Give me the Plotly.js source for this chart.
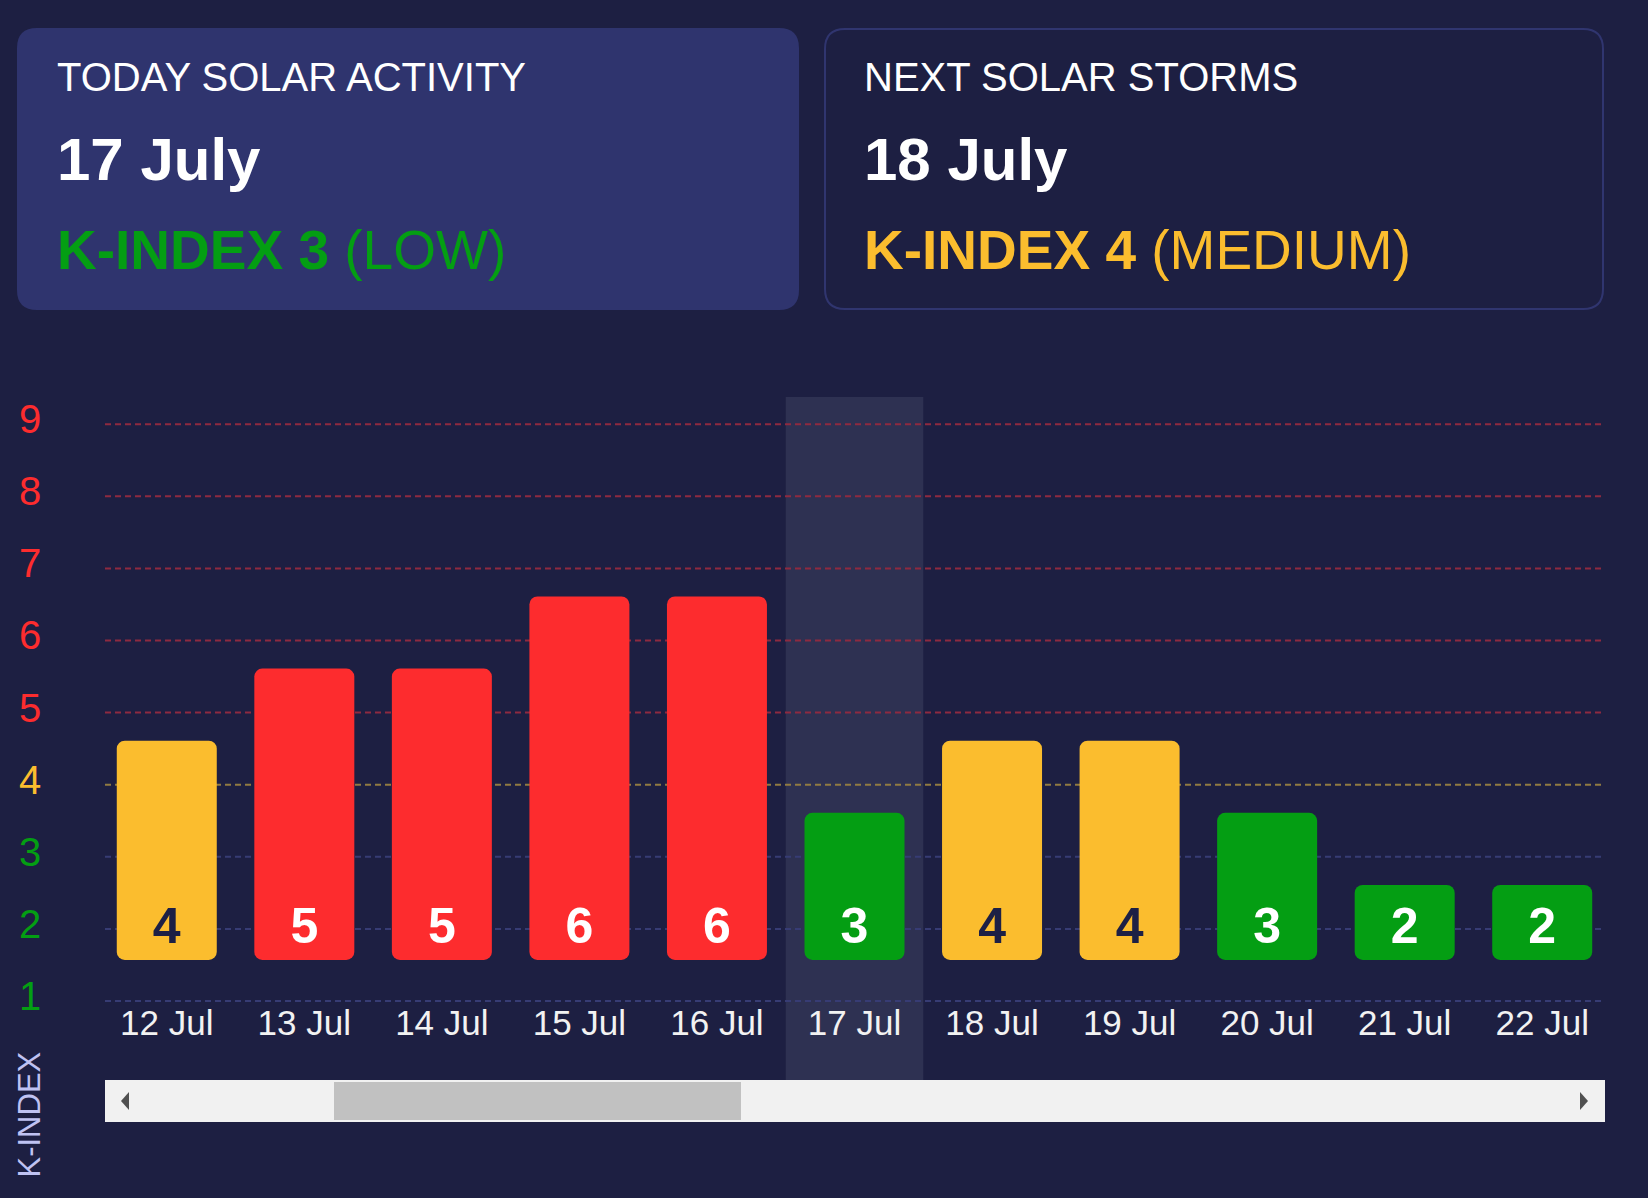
<!DOCTYPE html>
<html><head><meta charset="utf-8">
<script src="https://cdn.plot.ly/plotly-3.0.1.min.js"></script>
<style>html,body{margin:0;padding:0;background:#1d1f42;overflow:hidden}#chart{width:1648px;height:1198px}</style>
</head><body><div id="chart"></div>
<script>
// ---- data ----
const categories = ['12 Jul','13 Jul','14 Jul','15 Jul','16 Jul','17 Jul','18 Jul','19 Jul','20 Jul','21 Jul','22 Jul'];
const kIndex = [4,5,5,6,6,3,4,4,3,2,2];
const levels = [1,2,3,4,5,6,7,8,9];
const todayCategory = '17 Jul';
const todayHeading = 'TODAY SOLAR ACTIVITY';
const todayDate = '17 July';
const todayK = 3;
const todayLevel = 'LOW';
const nextHeading = 'NEXT SOLAR STORMS';
const nextDate = '18 July';
const nextK = 4;
const nextLevel = 'MEDIUM';
const yAxisTitle = 'K-INDEX';

// ---- styles ----
const GREEN = '#049e13', YELLOW = '#fbbd2e', RED = '#fd2c2e';
const BG = '#1d1f42';
function levelColor(k){ return k <= 3 ? GREEN : (k === 4 ? YELLOW : RED); }
function gridColor(k){ return k <= 3 ? '#373c74' : (k === 4 ? '#917b42' : '#8e2a40'); }
const FONT = 'Arial, "Liberation Sans", sans-serif';

const W = 1648, H = 1198, L = 98, R = 1611, T = 397, B = 1080;
const px2x = p => (p - L) / (R - L);
const px2y = p => (B - p) / (B - T);
function roundRect(x0, y0, x1, y1, r){
  const X = px2x, Y = px2y;
  return 'M' + X(x0 + r) + ',' + Y(y0) +
    ' L' + X(x1 - r) + ',' + Y(y0) +
    ' Q' + X(x1) + ',' + Y(y0) + ' ' + X(x1) + ',' + Y(y0 + r) +
    ' L' + X(x1) + ',' + Y(y1 - r) +
    ' Q' + X(x1) + ',' + Y(y1) + ' ' + X(x1 - r) + ',' + Y(y1) +
    ' L' + X(x0 + r) + ',' + Y(y1) +
    ' Q' + X(x0) + ',' + Y(y1) + ' ' + X(x0) + ',' + Y(y1 - r) +
    ' L' + X(x0) + ',' + Y(y0 + r) +
    ' Q' + X(x0) + ',' + Y(y0) + ' ' + X(x0 + r) + ',' + Y(y0) + ' Z';
}
function poly(pts){
  return pts.map((p, i) => (i ? 'L' : 'M') + px2x(p[0]) + ',' + px2y(p[1])).join(' ') + ' Z';
}

const BAR_BASE = 1.57, BAR_TOP_OFFSET = 0.61;

const bars = {
  type: 'bar', x: categories,
  y: kIndex.map(v => v + BAR_TOP_OFFSET - BAR_BASE),
  base: kIndex.map(() => BAR_BASE),
  width: 0.727,
  marker: {color: kIndex.map(levelColor), cornerradius: 8, line: {width: 0}},
  hoverinfo: 'skip', showlegend: false
};
const valueLabels = {
  type: 'scatter', mode: 'text', x: categories,
  y: kIndex.map(() => BAR_BASE + 0.41),
  text: kIndex.map(String),
  textposition: 'middle center',
  textfont: {family: FONT, size: 50, weight: 'bold', color: kIndex.map(v => v === 4 ? '#1d2045' : '#ffffff')},
  hoverinfo: 'skip', showlegend: false, cliponaxis: false
};
const catLabels = {
  type: 'scatter', mode: 'text', x: categories,
  y: categories.map(() => 0.65),
  text: categories,
  textposition: 'middle center',
  textfont: {family: FONT, size: 35, color: '#f2f2f2'},
  hoverinfo: 'skip', showlegend: false, cliponaxis: false
};

const todayIdx = categories.indexOf(todayCategory);
const shapes = [
  {type: 'path', xref: 'paper', yref: 'paper', path: roundRect(17, 28, 799, 310, 20), fillcolor: '#2f346e', line: {width: 0}, layer: 'below'},
  {type: 'path', xref: 'paper', yref: 'paper', path: roundRect(825, 29, 1603, 309, 20), fillcolor: BG, line: {color: '#30356f', width: 2}, layer: 'below'},
  {type: 'rect', xref: 'x', yref: 'paper', x0: todayIdx - 0.5, x1: todayIdx + 0.5, y0: 0, y1: 1, fillcolor: '#2e3152', line: {width: 0}, layer: 'below'}
];
levels.forEach(k => shapes.push({
  type: 'line', xref: 'paper', yref: 'y', x0: px2x(105), x1: px2x(1605), y0: k, y1: k,
  line: {color: gridColor(k), width: 2, dash: '6px,4px'}, layer: 'below'
}));
// scrollbar decoration
shapes.push({type: 'rect', xref: 'paper', yref: 'paper', x0: px2x(105), x1: px2x(1605), y0: px2y(1080), y1: px2y(1122), fillcolor: '#f1f1f1', line: {width: 0}});
shapes.push({type: 'rect', xref: 'paper', yref: 'paper', x0: px2x(334), x1: px2x(741), y0: px2y(1082), y1: px2y(1120), fillcolor: '#c1c1c1', line: {width: 0}});
shapes.push({type: 'path', xref: 'paper', yref: 'paper', path: poly([[121,1101],[129,1092],[129,1110]]), fillcolor: '#505050', line: {width: 0}});
shapes.push({type: 'path', xref: 'paper', yref: 'paper', path: poly([[1588,1101],[1580,1092],[1580,1110]]), fillcolor: '#505050', line: {width: 0}});

function ann(text, xpx, ypx, size, color, extra){
  return Object.assign({
    text: text, xref: 'paper', yref: 'paper', x: px2x(xpx), y: px2y(ypx),
    xanchor: 'left', yanchor: 'middle', showarrow: false,
    font: {family: FONT, size: size, color: color}
  }, extra || {});
}
const annotations = [
  ann(todayHeading, 55, 76.5, 40, '#ffffff'),
  ann('<b>' + todayDate + '</b>', 55, 159.5, 60, '#ffffff'),
  ann('<b>K-INDEX ' + todayK + '</b> (' + todayLevel + ')', 55, 250, 55, levelColor(todayK)),
  ann(nextHeading, 862, 76.5, 40, '#ffffff'),
  ann('<b>' + nextDate + '</b>', 862, 159.5, 60, '#ffffff'),
  ann('<b>K-INDEX ' + nextK + '</b> (' + nextLevel + ')', 862, 250, 55, levelColor(nextK)),
  ann(yAxisTitle, 28.5, 1115, 31, '#bfc2f2', {xanchor: 'center', textangle: -90})
];
// y tick labels, coloured by level, sitting slightly above their gridline
levels.forEach(k => annotations.push({
  text: String(k), xref: 'paper', yref: 'y', x: px2x(29.5), y: k, yshift: 5,
  xanchor: 'center', yanchor: 'middle', showarrow: false,
  font: {family: FONT, size: 40, color: levelColor(k)}
}));

const layout = {
  width: W, height: H,
  margin: {l: L, r: W - R, t: T, b: H - B, pad: 0},
  paper_bgcolor: BG, plot_bgcolor: BG,
  showlegend: false,
  font: {family: FONT},
  xaxis: {type: 'category', range: [-0.5, categories.length - 0.5], showticklabels: false,
          showgrid: false, zeroline: false, showline: false, ticks: '', fixedrange: true},
  yaxis: {range: [-0.0957, 9.377], tickvals: levels, showticklabels: false,
          showgrid: false, zeroline: false, showline: false, ticks: '', fixedrange: true},
  shapes: shapes,
  annotations: annotations,
  hovermode: false
};

Plotly.newPlot('chart', [bars, valueLabels, catLabels], layout, {displayModeBar: false, staticPlot: true});
</script>
</body></html>
